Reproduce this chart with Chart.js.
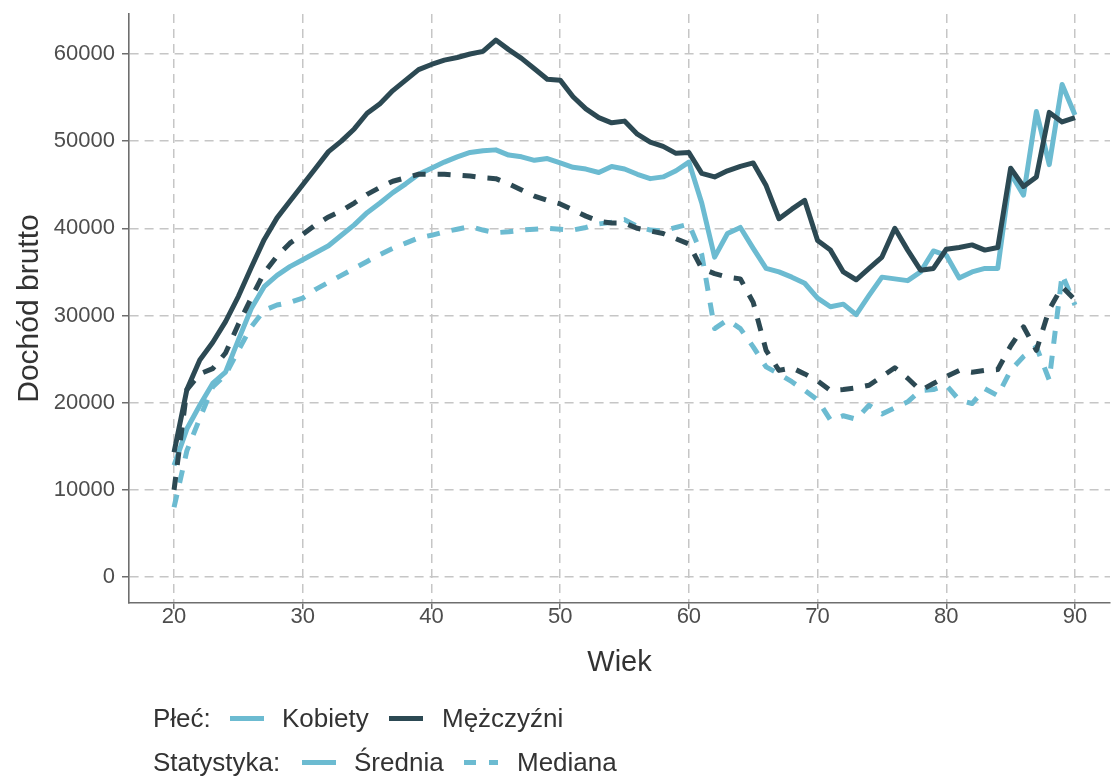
<!DOCTYPE html>
<html>
<head>
<meta charset="utf-8">
<script src="https://cdn.jsdelivr.net/npm/chart.js@4.4.1/dist/chart.umd.min.js"></script>
<style>
body { margin: 0; background: #fff; }
#wrap { position: relative; width: 1111px; height: 778px; }
#wrap canvas { position: absolute; left: 0; top: 0; }
.lg { position: absolute; font: 26px "Liberation Sans", Arial, sans-serif; color: #333; line-height: 30px; white-space: nowrap; }
.key { position: absolute; height: 5px; }
</style>
</head>
<body>
<div id="wrap">
<canvas id="chart" width="1111" height="778"></canvas>
<span class="lg" style="left:153px;top:703px">Płeć:</span>
<div class="key" style="left:230px;top:716px;width:34px;background:#6cbbd1"></div>
<span class="lg" style="left:282px;top:703px">Kobiety</span>
<div class="key" style="left:389px;top:716px;width:34px;background:#2c4953"></div>
<span class="lg" style="left:442px;top:703px">Mężczyźni</span>
<span class="lg" style="left:153px;top:747px">Statystyka:</span>
<div class="key" style="left:302px;top:760px;width:34px;background:#6cbbd1"></div>
<span class="lg" style="left:354px;top:747px">Średnia</span>
<div class="key" style="left:464px;top:760px;width:12px;background:#6cbbd1"></div>
<div class="key" style="left:489px;top:760px;width:9px;background:#6cbbd1"></div>
<span class="lg" style="left:517px;top:747px">Mediana</span>
</div>
<script>
var ages = [20, 21, 22, 23, 24, 25, 26, 27, 28, 29, 30, 31, 32, 33, 34, 35, 36, 37, 38, 39,
    40, 41, 42, 43, 44, 45, 46, 47, 48, 49, 50, 51, 52, 53, 54, 55, 56, 57, 58, 59,
    60, 61, 62, 63, 64, 65, 66, 67, 68, 69, 70, 71, 72, 73, 74, 75, 76, 77, 78, 79,
    80, 81, 82, 83, 84, 85, 86, 87, 88, 89, 90]

var menMean = [14300, 21500, 24900, 26900, 29300, 32200, 35500, 38700, 41200, 43100,
    45000, 46900, 48800, 50000, 51400, 53200, 54300, 55800, 57000, 58200,
    58800, 59300, 59600, 60000, 60300, 61600, 60500, 59500, 58300, 57100,
    57000, 55100, 53700, 52700, 52100, 52300, 50800, 49900, 49400, 48600,
    48700, 46300, 45900, 46600, 47100, 47500, 44900, 41100, 42200, 43200,
    38600, 37500, 35000, 34100, 35400, 36700, 40000, 37500, 35200, 35400,
    37600, 37800, 38100, 37500, 37800, 46900, 44800, 45900, 53300, 52200, 52700]

var womenMean = [12800, 17000, 19700, 22200, 23500, 27200, 30800, 33300, 34600, 35600,
    36400, 37200, 38000, 39200, 40400, 41800, 42900, 44100, 45100, 46200,
    46900, 47600, 48200, 48700, 48900, 49000, 48400, 48200, 47800, 48000,
    47500, 47000, 46800, 46400, 47100, 46800, 46200, 45700, 45900, 46600,
    47600, 42900, 36700, 39400, 40100, 37700, 35400, 35000, 34400, 33700,
    32000, 31000, 31300, 30100, 32300, 34400, 34200, 34000, 35000, 37400,
    36900, 34300, 35000, 35400, 35400, 46300, 43800, 53400, 47300, 56500, 53000]

var menMedian = [10000, 21500, 23300, 23900, 25700, 29000, 32000, 34900, 36800, 38300,
    39300, 40400, 41300, 42000, 42900, 43900, 44700, 45400, 45800, 46200,
    46200, 46200, 46100, 46000, 45800, 45700, 45100, 44400, 43700, 43200,
    42800, 42100, 41400, 40800, 40600, 40600, 40000, 39700, 39400, 38800,
    38200, 35400, 34800, 34400, 34200, 31500, 26000, 23700, 24000, 23300,
    22500, 21400, 21500, 21700, 22000, 23000, 24000, 22800, 21400, 22200,
    23000, 23700, 23500, 23700, 23800, 26500, 28700, 26000, 30700, 33300, 31800]

var womenMedian = [8000, 14500, 18200, 21800, 23200, 26000, 28700, 30600, 31200, 31500,
    32000, 33000, 33800, 34600, 35400, 36200, 37000, 37700, 38300, 38900,
    39200, 39600, 39900, 40200, 39800, 39500, 39600, 39800, 39900, 40000,
    39900, 39800, 40100, 40500, 40700, 41000, 40200, 39800, 39700, 40100,
    40500, 37000, 28500, 29500, 28500, 26400, 24100, 23300, 22400, 21400,
    20300, 18000, 18500, 18100, 19700, 18700, 19400, 20100, 21400, 21500,
    22000, 20300, 19900, 21600, 20800, 23700, 25300, 26400, 22600, 34700, 31200]

var xTicks = [20, 30, 40, 50, 60, 70, 80, 90]
var yTicks = [0, 10000, 20000, 30000, 40000, 50000, 60000]

var light = '#6cbbd1'
var dark = '#2c4953'

function points(values) {
    return ages.map(function (a, i) { return { x: a, y: values[i] } })
}

function line(label, values, color, dashed) {
    return {
        label: label,
        data: points(values),
        borderColor: color,
        borderWidth: 5,
        borderDash: dashed ? [13, 12] : [],
        borderCapStyle: 'butt',
        borderJoinStyle: 'round',
        pointRadius: 0,
        tension: 0,
        fill: false
    }
}

var borderOpts = { display: true, color: '#6e6e6e', width: 1.6, dash: [9, 6] }
var font = '"Liberation Sans", Arial, sans-serif'

var ctx = document.getElementById('chart').getContext('2d')

var chart = new Chart(ctx, {
    type: 'line',
    data: {
        datasets: [
            line('Mężczyźni Średnia', menMean, dark, false),
            line('Mężczyźni Mediana', menMedian, dark, true),
            line('Kobiety Średnia', womenMean, light, false),
            line('Kobiety Mediana', womenMedian, light, true)
        ]
    },
    options: {
        responsive: false,
        animation: false,
        layout: { padding: { top: 14, right: 1, left: 0, bottom: 0 } },
        plugins: {
            legend: { display: false },
            tooltip: { enabled: false }
        },
        scales: {
            x: {
                type: 'linear',
                min: 16.5,
                max: 92.72,
                afterBuildTicks: function (s) { s.ticks = xTicks.map(function (v) { return { value: v } }) },
                afterFit: function (s) {
                    s.height = 175
                    s.paddingLeft = 0
                    s.paddingRight = 0
                },
                grid: { color: '#c6c6c6', lineWidth: 1.5, tickLength: 6, tickColor: '#6e6e6e', tickWidth: 1.5, tickBorderDash: [] },
                border: borderOpts,
                ticks: {
                    padding: -5,
                    color: '#4d4d4d',
                    font: { family: font, size: 22 },
                    maxRotation: 0,
                    callback: function (v) { return String(v) }
                },
                title: {
                    display: true,
                    text: 'Wiek',
                    color: '#333',
                    font: { family: font, size: 29 },
                    padding: { top: 0, bottom: 98 }
                }
            },
            y: {
                min: -2983,
                max: 64587,
                afterBuildTicks: function (s) { s.ticks = yTicks.map(function (v) { return { value: v } }) },
                afterFit: function (s) {
                    s.width = 129
                    s.paddingTop = 0
                    s.paddingBottom = 0
                },
                grid: { color: '#c6c6c6', lineWidth: 1.5, tickLength: 7, tickColor: '#6e6e6e', tickWidth: 1.5, tickBorderDash: [] },
                border: borderOpts,
                ticks: {
                    padding: 7,
                    color: '#4d4d4d',
                    font: { family: font, size: 22 },
                    callback: function (v) { return String(v) }
                },
                title: {
                    display: true,
                    text: 'Dochód brutto',
                    color: '#333',
                    font: { family: font, size: 30 },
                    padding: { top: 12, bottom: 0 }
                }
            }
        }
    }
});
</script>
</body>
</html>
